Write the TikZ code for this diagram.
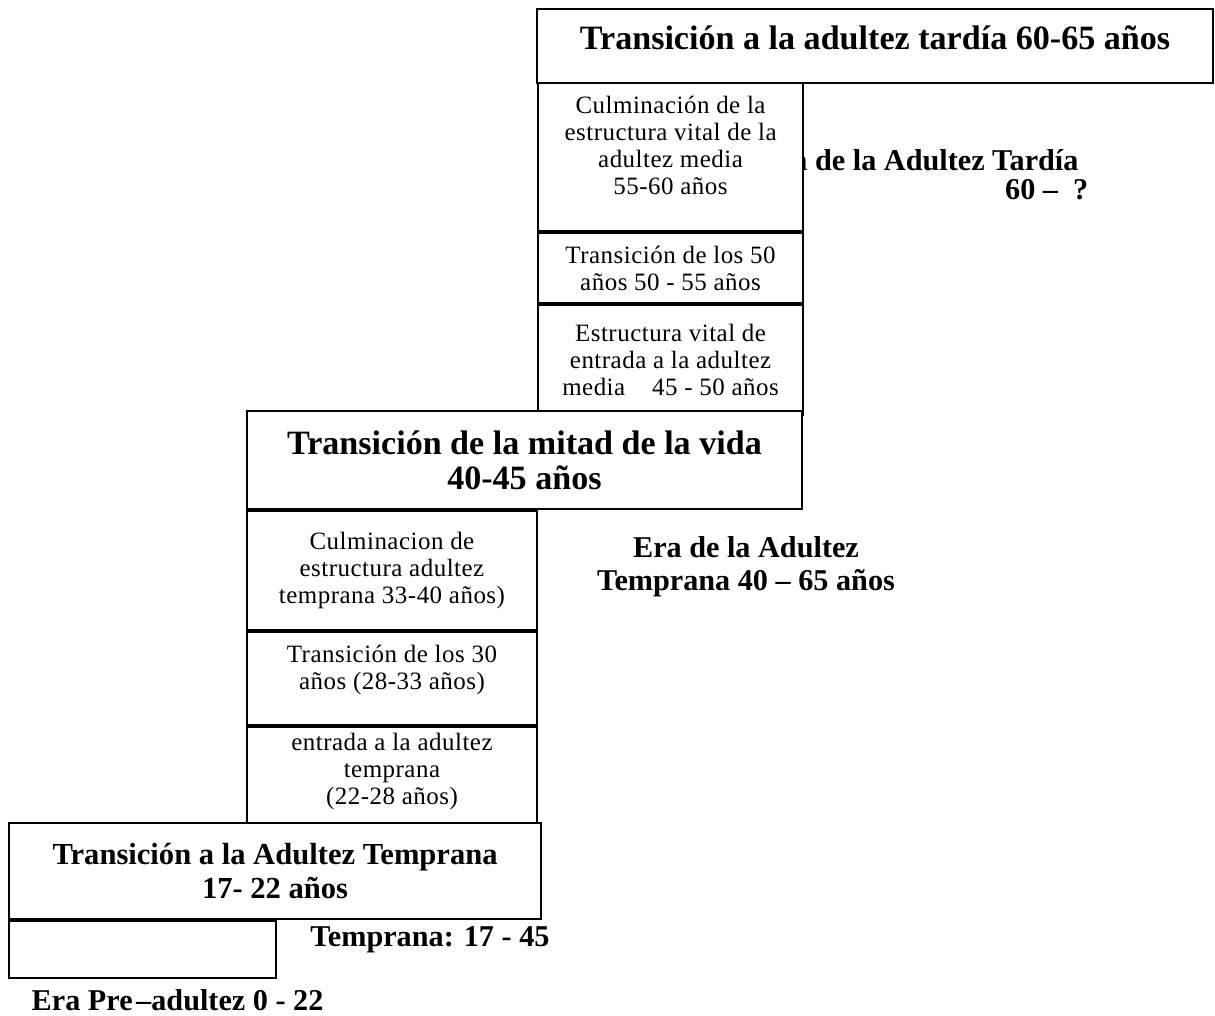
\documentclass[tikz,border=0pt]{standalone}
\usepackage{fontspec}
\setmainfont{Liberation Serif}
\usepackage{tikz}
\usetikzlibrary{positioning}

\tikzset{
  etapa/.style={draw=black, line width=0.6pt, fill=white, align=center, inner sep=0pt, font=\fontsize{7.1}{7.7}\selectfont\addfontfeature{LetterSpace=2}},
  transicion/.style={etapa, font=\fontsize{9.7}{9.9}\selectfont\bfseries},
  era/.style={align=center, inner sep=0pt, font=\fontsize{8.6}{9.4}\selectfont\bfseries},
}

\begin{document}
\begin{tikzpicture}

  \useasboundingbox (0,0) rectangle (12.15,-10.15);

  % Eras (detras de las cajas)
  \node[era, align=right, anchor=north east, font=\fontsize{8.6}{8.1}\selectfont\bfseries] (eraTardia) at (10.89,-1.49) {Era de la Adultez Tardía\hspace*{2.8pt}\\60 –\ \ ?};
  \node[era] (eraMedia) at (7.46,-5.67) {Era de la Adultez\\Temprana 40 – 65 años};
  \node[era] (eraTemprana) at (4.30,-9.40) {Temprana: 17 - 45};
  \node[era, anchor=west] (eraPre) at (0.31,-10.00) {Era Pre\kern1pt–adultez 0 - 22};

  % Adultez tardia
  \node[transicion, anchor=north west, minimum width=6.76cm, minimum height=0.74cm, text depth=5pt] (tardia) at (5.36,-0.08) {Transición a la adultez tardía 60-65 años};

  % Adultez media
  \node[etapa, anchor=north west, minimum width=2.65cm, minimum height=1.48cm, text depth=6.5pt] (culmMedia) at (5.37,-0.82) {Culminación de la\\estructura vital de la\\adultez media\\55-60 años};
  \node[etapa, below=0pt of culmMedia, minimum width=2.65cm, minimum height=0.70cm] (trans50) {Transición de los 50\\años 50 - 55 años};
  \node[etapa, below=0pt of trans50, minimum width=2.65cm, minimum height=1.10cm] (entMedia) {Estructura vital de\\entrada a la adultez\\media\ \ \ \ 45 - 50 años};

  % Mitad de la vida
  \node[transicion, anchor=north east, minimum width=5.55cm, minimum height=0.98cm] (mitad) at (8.03,-4.10) {Transición de la mitad de la vida\\40-45 años};

  % Adultez temprana
  \node[etapa, anchor=north west, minimum width=2.90cm, minimum height=1.19cm] (culmTemp) at (mitad.south west) {Culminacion de\\estructura adultez\\temprana 33-40 años)};
  \node[etapa, below=0pt of culmTemp, minimum width=2.90cm, minimum height=0.93cm, text depth=6.5pt] (trans30) {Transición de los 30\\años (28-33 años)};
  \node[etapa, below=0pt of trans30, minimum width=2.90cm, minimum height=1.02cm, text depth=5.5pt] (entTemp) {entrada a la adultez\\temprana\\(22-28 años)};

  % Transicion a la adultez temprana
  \node[transicion, anchor=north west, minimum width=5.32cm, minimum height=0.96cm, font=\fontsize{8.7}{9.9}\selectfont\bfseries] (adultTemp) at (0.08,-8.22) {Transición a la Adultez Temprana\\17- 22 años};
  \node[etapa, anchor=north west, minimum width=2.67cm, minimum height=0.57cm] (preBox) at (adultTemp.south west) {};

\end{tikzpicture}
\end{document}
